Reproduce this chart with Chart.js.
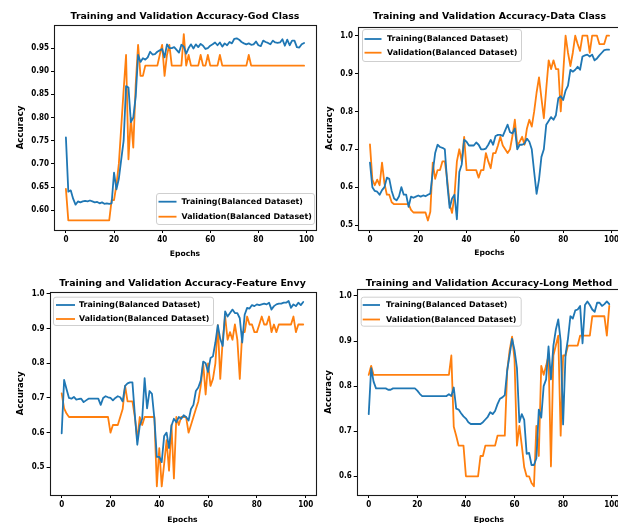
<!DOCTYPE html>
<html>
<head>
<meta charset="utf-8">
<script src="https://cdn.jsdelivr.net/npm/chart.js@4.4.1/dist/chart.umd.min.js"></script>
<style>
  html, body { margin: 0; padding: 0; background: #ffffff; width: 618px; height: 523px; overflow: hidden; }
  canvas { position: absolute; left: 0; top: 0; filter: blur(0.5px); }
</style>
</head>
<body>
<canvas id="godChart" width="640" height="540"></canvas>
<canvas id="dataChart" width="640" height="540"></canvas>
<canvas id="featureChart" width="640" height="540"></canvas>
<canvas id="longChart" width="640" height="540"></canvas>
<script>
// ---- data ---------------------------------------------------------------
const epochs = [...Array(100).keys()];
const seriesNames = ['Training(Balanced Dataset)', 'Validation(Balanced Dataset)'];
const xTicks = [0, 20, 40, 60, 80, 100];

const godTicks = [0.60, 0.65, 0.70, 0.75, 0.80, 0.85, 0.90, 0.95];
const dataTicks = [0.5, 0.6, 0.7, 0.8, 0.9, 1.0];
const featureTicks = [0.5, 0.6, 0.7, 0.8, 0.9, 1.0];
const longTicks = [0.6, 0.7, 0.8, 0.9, 1.0];

const godTrain = [
  0.757, 0.640, 0.643, 0.625, 0.612, 0.619, 0.617, 0.619, 0.620, 0.619,
  0.621, 0.619, 0.617, 0.618, 0.615, 0.617, 0.614, 0.615, 0.614, 0.615,
  0.681, 0.645, 0.668, 0.710, 0.750, 0.868, 0.865, 0.790, 0.800, 0.845,
  0.935, 0.920, 0.928, 0.925, 0.930, 0.942, 0.936, 0.937, 0.942, 0.945,
  0.948, 0.930, 0.958, 0.950, 0.950, 0.952, 0.946, 0.940, 0.957, 0.953,
  0.938, 0.950, 0.958, 0.949, 0.958, 0.952, 0.959, 0.955, 0.948, 0.950,
  0.955, 0.958, 0.962, 0.956, 0.962, 0.953, 0.960, 0.956, 0.963, 0.960,
  0.970, 0.971, 0.968, 0.963, 0.960, 0.958, 0.960, 0.957, 0.958, 0.964,
  0.956, 0.954, 0.966, 0.963, 0.961, 0.958, 0.966, 0.962, 0.961, 0.962,
  0.969, 0.955, 0.968, 0.956, 0.966, 0.966, 0.952, 0.951, 0.958, 0.961
];
const godVal = [
  0.646, 0.578, 0.578, 0.578, 0.578, 0.578, 0.578, 0.578, 0.578, 0.578,
  0.578, 0.578, 0.578, 0.578, 0.578, 0.578, 0.578, 0.578, 0.578, 0.622,
  0.622, 0.655, 0.700, 0.780, 0.860, 0.935, 0.710, 0.800, 0.735, 0.870,
  0.957, 0.890, 0.890, 0.912, 0.912, 0.912, 0.912, 0.912, 0.912, 0.935,
  0.957, 0.890, 0.935, 0.957, 0.912, 0.912, 0.912, 0.912, 0.912, 0.980,
  0.912, 0.935, 0.912, 0.912, 0.912, 0.912, 0.935, 0.912, 0.912, 0.935,
  0.912, 0.912, 0.912, 0.912, 0.935, 0.912, 0.912, 0.912, 0.912, 0.912,
  0.912, 0.912, 0.912, 0.912, 0.912, 0.912, 0.935, 0.912, 0.912, 0.912,
  0.912, 0.912, 0.912, 0.912, 0.912, 0.912, 0.912, 0.912, 0.912, 0.912,
  0.912, 0.912, 0.912, 0.912, 0.912, 0.912, 0.912, 0.912, 0.912, 0.912
];

const dataTrain = [
  0.665, 0.600, 0.590, 0.588, 0.580, 0.592, 0.600, 0.625, 0.622, 0.590,
  0.570, 0.565, 0.575, 0.600, 0.580, 0.580, 0.548, 0.575, 0.572, 0.575,
  0.578, 0.575, 0.578, 0.576, 0.580, 0.583, 0.640, 0.690, 0.712, 0.706,
  0.704, 0.700, 0.610, 0.545, 0.570, 0.580, 0.515, 0.640, 0.660, 0.725,
  0.720, 0.710, 0.710, 0.710, 0.718, 0.712, 0.700, 0.700, 0.702, 0.712,
  0.725, 0.712, 0.735, 0.738, 0.738, 0.735, 0.750, 0.765, 0.745, 0.742,
  0.755, 0.700, 0.712, 0.712, 0.715, 0.728, 0.720, 0.700, 0.640, 0.582,
  0.620, 0.680, 0.700, 0.765, 0.775, 0.785, 0.778, 0.790, 0.835, 0.840,
  0.830, 0.855, 0.868, 0.910, 0.905, 0.910, 0.918, 0.910, 0.945, 0.948,
  0.950, 0.945, 0.950, 0.935, 0.940, 0.948, 0.955, 0.962, 0.963, 0.963
];
const dataVal = [
  0.713, 0.620, 0.605, 0.620, 0.605, 0.665, 0.610, 0.580, 0.580, 0.560,
  0.555, 0.555, 0.555, 0.555, 0.555, 0.555, 0.555, 0.540, 0.533, 0.533,
  0.533, 0.533, 0.533, 0.533, 0.512, 0.535, 0.665, 0.622, 0.645, 0.645,
  0.668, 0.668, 0.620, 0.555, 0.532, 0.578, 0.668, 0.700, 0.668, 0.733,
  0.645, 0.645, 0.645, 0.645, 0.645, 0.625, 0.645, 0.645, 0.690, 0.668,
  0.650, 0.690, 0.690, 0.710, 0.733, 0.710, 0.700, 0.690, 0.700, 0.735,
  0.778, 0.710, 0.720, 0.733, 0.712, 0.755, 0.778, 0.760, 0.800, 0.850,
  0.890, 0.835, 0.782, 0.860, 0.935, 0.912, 0.935, 0.912, 0.912, 0.800,
  0.900, 1.000, 0.955, 0.920, 0.955, 1.000, 0.978, 0.960, 1.000, 1.000,
  1.000, 0.955, 1.000, 1.000, 1.000, 0.978, 0.978, 0.978, 1.000, 1.000
];

const featureTrain = [
  0.598, 0.752, 0.725, 0.700, 0.698, 0.703, 0.695, 0.697, 0.698, 0.688,
  0.693, 0.698, 0.698, 0.698, 0.698, 0.698, 0.680, 0.700, 0.705, 0.702,
  0.700, 0.693, 0.700, 0.705, 0.702, 0.690, 0.735, 0.742, 0.745, 0.745,
  0.650, 0.565, 0.620, 0.640, 0.757, 0.670, 0.720, 0.712, 0.640, 0.530,
  0.530, 0.515, 0.590, 0.600, 0.555, 0.620, 0.640, 0.630, 0.645, 0.640,
  0.650, 0.645, 0.635, 0.668, 0.680, 0.720, 0.730, 0.750, 0.805, 0.800,
  0.775, 0.815, 0.820, 0.860, 0.910, 0.870, 0.850, 0.950, 0.935, 0.945,
  0.955, 0.945, 0.945, 0.930, 0.860, 0.940, 0.960, 0.958, 0.968, 0.965,
  0.970, 0.968, 0.970, 0.972, 0.970, 0.975, 0.955, 0.965, 0.970, 0.972,
  0.972, 0.975, 0.975, 0.980, 0.960, 0.970, 0.965, 0.975, 0.968, 0.977
];
const featureVal = [
  0.713, 0.670, 0.655, 0.645, 0.645, 0.645, 0.645, 0.645, 0.645, 0.645,
  0.645, 0.645, 0.645, 0.645, 0.645, 0.645, 0.645, 0.645, 0.645, 0.645,
  0.600, 0.622, 0.622, 0.622, 0.645, 0.668, 0.735, 0.690, 0.690, 0.690,
  0.645, 0.580, 0.645, 0.622, 0.645, 0.645, 0.645, 0.645, 0.645, 0.445,
  0.555, 0.445, 0.510, 0.578, 0.490, 0.622, 0.468, 0.645, 0.622, 0.645,
  0.645, 0.645, 0.600, 0.622, 0.645, 0.668, 0.690, 0.735, 0.800, 0.710,
  0.800, 0.735, 0.755, 0.800, 0.910, 0.755, 0.868, 0.935, 0.868, 0.890,
  0.868, 0.912, 0.868, 0.755, 0.890, 0.890, 0.935, 0.912, 0.912, 0.890,
  0.890, 0.912, 0.935, 0.912, 0.912, 0.935, 0.890, 0.912, 0.890, 0.912,
  0.912, 0.912, 0.912, 0.912, 0.912, 0.935, 0.890, 0.912, 0.912, 0.912
];

const longTrain = [
  0.738, 0.840, 0.810, 0.795, 0.795, 0.795, 0.795, 0.795, 0.792, 0.792,
  0.795, 0.795, 0.795, 0.795, 0.795, 0.795, 0.795, 0.795, 0.795, 0.795,
  0.790, 0.783, 0.778, 0.778, 0.778, 0.778, 0.778, 0.778, 0.778, 0.778,
  0.778, 0.778, 0.778, 0.782, 0.778, 0.797, 0.750, 0.748, 0.740, 0.733,
  0.728, 0.720, 0.716, 0.716, 0.716, 0.716, 0.716, 0.720, 0.726, 0.732,
  0.742, 0.738, 0.745, 0.760, 0.772, 0.775, 0.780, 0.835, 0.870, 0.905,
  0.880, 0.840, 0.720, 0.738, 0.725, 0.650, 0.652, 0.625, 0.625, 0.640,
  0.748, 0.730, 0.800, 0.815, 0.888, 0.815, 0.890, 0.925, 0.948, 0.900,
  0.715, 0.870, 0.905, 0.955, 0.950, 0.968, 0.970, 0.978, 0.895, 0.980,
  0.988, 0.980, 0.970, 0.965, 0.985, 0.985, 0.978, 0.982, 0.988, 0.982
];
const longVal = [
  0.825, 0.845, 0.825, 0.825, 0.825, 0.825, 0.825, 0.825, 0.825, 0.825,
  0.825, 0.825, 0.825, 0.825, 0.825, 0.825, 0.825, 0.825, 0.825, 0.825,
  0.825, 0.825, 0.825, 0.825, 0.825, 0.825, 0.825, 0.825, 0.825, 0.825,
  0.825, 0.825, 0.825, 0.825, 0.868, 0.710, 0.690, 0.668, 0.668, 0.668,
  0.600, 0.600, 0.600, 0.600, 0.600, 0.600, 0.645, 0.645, 0.668, 0.668,
  0.668, 0.668, 0.668, 0.690, 0.690, 0.690, 0.690, 0.835, 0.880, 0.910,
  0.860, 0.668, 0.712, 0.668, 0.620, 0.600, 0.600, 0.585, 0.578, 0.712,
  0.645, 0.845, 0.825, 0.845, 0.868, 0.622, 0.868, 0.890, 0.912, 0.690,
  0.868, 0.868, 0.890, 0.890, 0.890, 0.890, 0.890, 0.912, 0.912, 0.912,
  0.912, 0.912, 0.955, 0.955, 0.955, 0.955, 0.955, 0.955, 0.912, 0.978
];

// ---- styling ------------------------------------------------------------
const BLUE = '#1f77b4';
const ORANGE = '#ff7f0e';
const INK = '#000000';
const FAMILY = "'DejaVu Sans', 'Liberation Sans', sans-serif";
const NARROW = "'DejaVu Sans Condensed', 'DejaVu Sans', sans-serif";
const CANVAS_W = 640, CANVAS_H = 540;
const TITLE_SIZE = 9.4, TICK_SIZE = 8, XLABEL_SIZE = 7.6, YLABEL_SIZE = 8.6, LEGEND_SIZE = 7.9;
const LINE_W = 1.8;

// axes box drawn on all four sides
const framePlugin = {
  id: 'frame',
  afterDatasetsDraw(chart) {
    const { ctx, chartArea: a } = chart;
    ctx.save();
    ctx.strokeStyle = '#1a1a1a';
    ctx.lineWidth = 1.1;
    ctx.strokeRect(Math.round(a.left) + 0.5, Math.round(a.top) + 0.5,
                   Math.round(a.right - a.left), Math.round(a.bottom - a.top));
    ctx.restore();
  }
};

// boxed legend with short line handles
const boxLegendPlugin = {
  id: 'boxLegend',
  afterDraw(chart, args, o) {
    const { ctx } = chart;
    ctx.save();
    ctx.beginPath();
    ctx.roundRect(o.left + 0.5, o.top + 0.5, o.width, o.height, 2.5);
    ctx.fillStyle = 'rgba(255,255,255,0.85)';
    ctx.fill();
    ctx.strokeStyle = '#cfcfcf';
    ctx.lineWidth = 1;
    ctx.stroke();
    ctx.font = `bold ${LEGEND_SIZE}px ${FAMILY}`;
    ctx.textBaseline = 'middle';
    ctx.textAlign = 'left';
    chart.data.datasets.forEach((ds, i) => {
      const y = o.rows[i];
      ctx.strokeStyle = ds.borderColor;
      ctx.lineWidth = LINE_W;
      ctx.beginPath();
      ctx.moveTo(o.handleFrom, y);
      ctx.lineTo(o.handleTo, y);
      ctx.stroke();
      ctx.fillStyle = INK;
      ctx.fillText(ds.label, o.textX, y);
    });
    ctx.restore();
  }
};

function makePanel(id, p) {
  const titleLH = TITLE_SIZE * 1.2;
  const padLeft = p.yLabelX - YLABEL_SIZE * 1.2 / 2;
  const padBottom = CANVAS_H - p.xLabelY - XLABEL_SIZE * 1.2 / 2;
  const yAxisW = p.L - padLeft;
  const xAxisH = CANVAS_H - padBottom - p.B;
  const tickFont = { family: NARROW, size: TICK_SIZE, weight: 'bold' };

  return new Chart(document.getElementById(id), {
    type: 'line',
    data: {
      datasets: [
        { label: seriesNames[0], data: p.train.map((v, i) => ({ x: epochs[i], y: v })),
          borderColor: BLUE, backgroundColor: BLUE },
        { label: seriesNames[1], data: p.val.map((v, i) => ({ x: epochs[i], y: v })),
          borderColor: ORANGE, backgroundColor: ORANGE }
      ]
    },
    options: {
      responsive: false,
      animation: false,
      devicePixelRatio: 1,
      events: [],
      elements: {
        line: { borderWidth: LINE_W, tension: 0, fill: false, borderJoinStyle: 'round', borderCapStyle: 'round' },
        point: { radius: 0 }
      },
      layout: { padding: { left: padLeft, right: CANVAS_W - p.R, top: 0, bottom: padBottom } },
      plugins: {
        legend: { display: false },
        tooltip: { enabled: false },
        title: {
          display: true,
          text: p.title,
          fullSize: false,
          color: INK,
          font: { family: FAMILY, size: TITLE_SIZE, weight: 'bold', lineHeight: 1.2 },
          padding: { top: p.titleY - titleLH / 2, bottom: p.T - p.titleY - titleLH / 2 }
        },
        boxLegend: p.legend
      },
      scales: {
        x: {
          type: 'linear',
          min: -4.95,
          max: 103.95,
          afterBuildTicks: s => { s.ticks = xTicks.map(v => ({ value: v })); },
          afterFit: s => { s.height = xAxisH; },
          ticks: { color: INK, font: tickFont, padding: 2, maxRotation: 0, autoSkip: false },
          grid: { drawOnChartArea: false, drawTicks: true, tickLength: 3, color: INK, tickColor: INK },
          border: { display: false },
          title: { display: true, text: 'Epochs', color: INK,
                   font: { family: FAMILY, size: XLABEL_SIZE, weight: 'bold' }, padding: { top: 0, bottom: 0 } }
        },
        y: {
          type: 'linear',
          min: p.yMin,
          max: p.yMax,
          afterBuildTicks: s => { s.ticks = p.yTicks.map(v => ({ value: v })); },
          afterFit: s => { s.width = yAxisW; },
          ticks: { color: INK, font: tickFont, padding: 2, callback: v => v.toFixed(p.decimals) },
          grid: { drawOnChartArea: false, drawTicks: true, tickLength: 3, color: INK, tickColor: INK },
          border: { display: false },
          title: { display: true, text: 'Accuracy', color: INK,
                   font: { family: FAMILY, size: YLABEL_SIZE, weight: 'bold' }, padding: { top: 0, bottom: 0 } }
        }
      }
    },
    plugins: [framePlugin, boxLegendPlugin]
  });
}

makePanel('godChart', {
  title: 'Training and Validation Accuracy-God Class',
  train: godTrain, val: godVal, yTicks: godTicks, decimals: 2,
  yMin: 0.5574, yMax: 0.9997,
  L: 54, R: 316, T: 25, B: 230,
  titleY: 16.7, yLabelX: 21, xLabelY: 254.3,
  legend: { left: 156, top: 193, width: 158, height: 31, rows: [201.7, 216.7], handleFrom: 158.5, handleTo: 176.5, textX: 181.5 }
});

makePanel('dataChart', {
  title: 'Training and Validation Accuracy-Data Class',
  train: dataTrain, val: dataVal, yTicks: dataTicks, decimals: 1,
  yMin: 0.4868, yMax: 1.0238,
  L: 358, R: 621, T: 26.7, B: 230,
  titleY: 16.7, yLabelX: 329.3, xLabelY: 253.3,
  legend: { left: 362, top: 29, width: 159, height: 32, rows: [39, 52.7], handleFrom: 364.5, handleTo: 381.5, textX: 387 }
});

makePanel('featureChart', {
  title: 'Training and Validation Accuracy-Feature Envy',
  train: featureTrain, val: featureVal, yTicks: featureTicks, decimals: 1,
  yMin: 0.420, yMax: 1.0066,
  L: 49.6, R: 315.3, T: 291.7, B: 495,
  titleY: 283.3, yLabelX: 21, xLabelY: 520,
  legend: { left: 53, top: 296.7, width: 160, height: 28.3, rows: [305, 319], handleFrom: 56, handleTo: 75, textX: 79 }
});

makePanel('longChart', {
  title: 'Training and Validation Accuracy-Long Method',
  train: longTrain, val: longVal, yTicks: longTicks, decimals: 1,
  yMin: 0.5585, yMax: 1.0155,
  L: 356.7, R: 621.3, T: 289, B: 495,
  titleY: 283.3, yLabelX: 328.3, xLabelY: 520,
  legend: { left: 360.7, top: 296.7, width: 160, height: 29, rows: [305, 319.5], handleFrom: 362.7, handleTo: 380, textX: 386 }
});
</script>
</body>
</html>
